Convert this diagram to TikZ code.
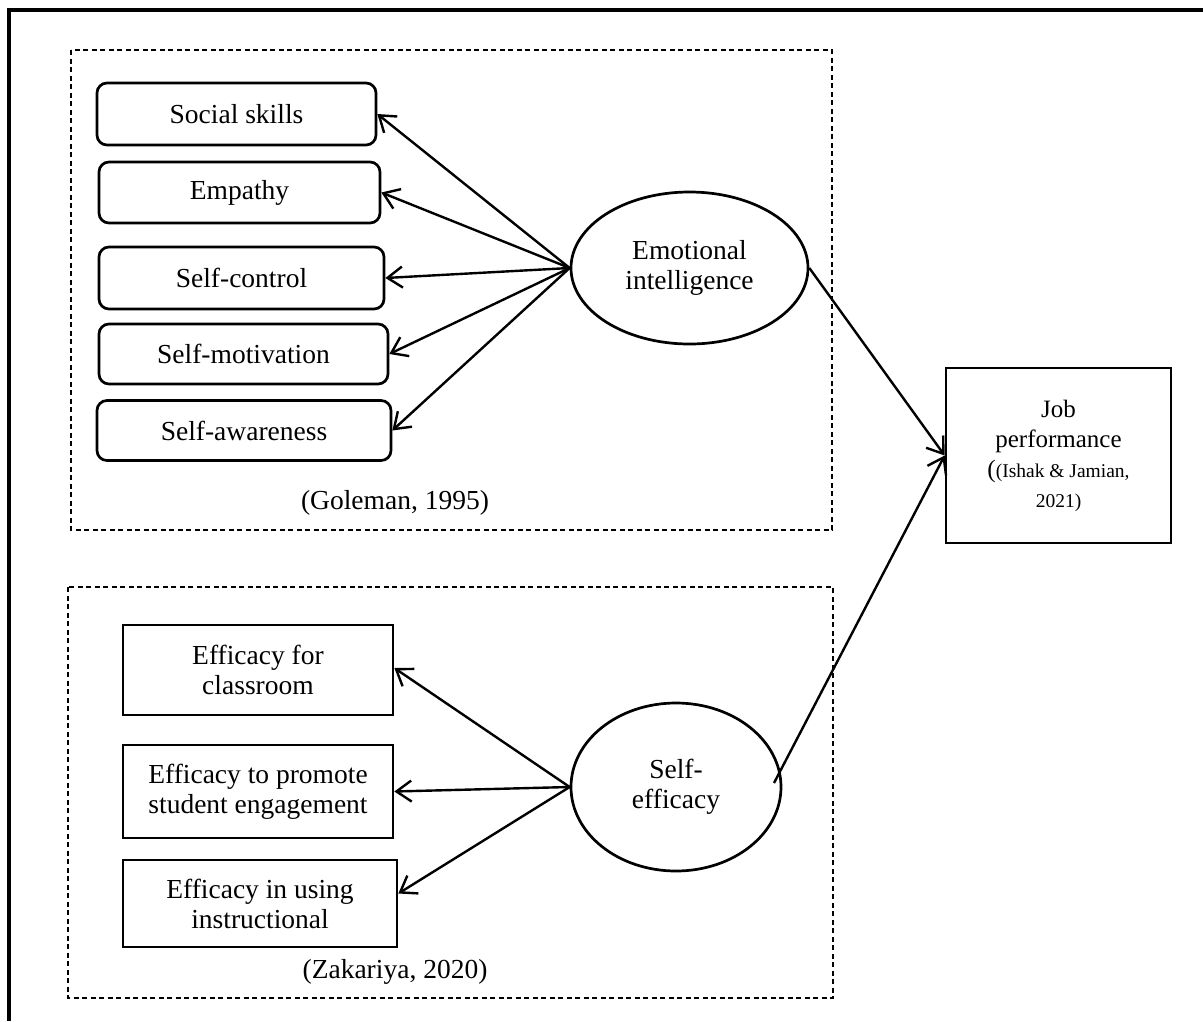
\documentclass[tikz,border=0pt]{standalone}
\usepackage{fontspec}
\setmainfont{Liberation Serif}
\usetikzlibrary{arrows.meta,shapes.geometric}

\tikzset{
  lbl/.style={font=\fontsize{27.5}{30}\selectfont, align=center, inner sep=0pt},
  roundbox/.style={lbl, draw, line width=2.7pt, rounded corners=10pt},
  sqbox/.style={lbl, draw, line width=2.7pt},
  latent/.style={lbl, draw, ellipse, line width=2.7pt},
  group/.style={draw, line width=1.3pt, dash pattern=on 5pt off 3.5pt},
  link/.style={line width=2.4pt, -{Straight Barb[length=15pt, width=21pt, line width=2.4pt]}}
}

\begin{document}
\begin{tikzpicture}[x=1pt, y=-1pt]
  \useasboundingbox (0,0) rectangle (1203,1021);

  % frame of the figure
  \draw[line width=3.5pt] (9,1021) -- (9,10) -- (1203,10);

  % dashed groups
  \draw[group] (71,50) rectangle (832,530);
  \draw[group] (68,587) rectangle (833,998);

  % emotional intelligence dimensions
  \node[roundbox, minimum width=279pt, minimum height=62pt] (ss) at (236.5,114) {Social skills};
  \node[roundbox, minimum width=281pt, minimum height=61pt] (em) at (239.5,192.5) {Empathy};
  \node[roundbox, minimum width=285pt, minimum height=62pt] (sc) at (241.5,278) {Self-control};
  \node[roundbox, minimum width=289pt, minimum height=60pt] (sm) at (243.5,354) {Self-motivation};
  \node[roundbox, minimum width=294pt, minimum height=60pt] (sa) at (244,430.5) {Self-awareness};
  \node[lbl] (gol) at (395,503) {(Goleman, 1995)};

  \node[latent, minimum width=237pt, minimum height=152pt] (ei) at (689.5,268) {Emotional\\intelligence};

  % self-efficacy dimensions
  \node[sqbox, minimum width=270pt, minimum height=90pt] (c1) at (258,670) {Efficacy for\\classroom};
  \node[sqbox, minimum width=270pt, minimum height=93pt] (c2) at (258,791.5) {Efficacy to promote\\student engagement};
  \node[sqbox, minimum width=274pt, minimum height=87pt] (c3) at (260,903.5) {Efficacy in using\\instructional};
  \node[lbl] (zak) at (395,972) {(Zakariya, 2020)};

  \node[latent, minimum width=210pt, minimum height=168pt] (se) at (676,787) {Self-\\efficacy};

  % outcome
  \node[sqbox, minimum width=225pt, minimum height=175pt] (jp) at (1058.5,455.5)
    {\fontsize{25}{30}\selectfont Job\\\fontsize{25}{30}\selectfont performance\\
     \fontsize{25}{30}\selectfont(\fontsize{19.5}{30}\selectfont(Ishak \& Jamian,\\
     \fontsize{19.5}{26}\selectfont 2021)};

  % connectors
  \foreach \t in {ss,em,sc,sm,sa} \draw[link] (ei.west) -- (\t.east);
  \draw[link] (se.west) -- ([yshift=2pt]c1.east);
  \draw[link] (se.west) -- (c2.east);
  \draw[link] (se.west) -- ([yshift=10pt]c3.east);

  \coordinate (sestart) at (774,783);
  \draw[link] (ei.east) -- (jp.west);
  \draw[link] (sestart) -- (jp.west);
\end{tikzpicture}
\end{document}
